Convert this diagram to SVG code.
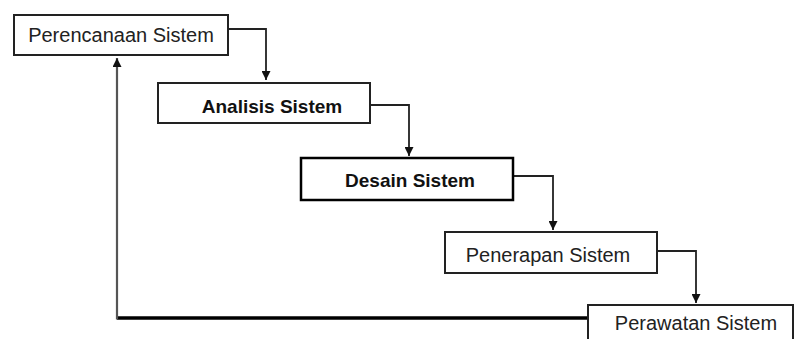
<svg xmlns="http://www.w3.org/2000/svg" width="795" height="339" viewBox="0 0 795 339">
<style>
.box{fill:#fff;stroke:#222;stroke-width:2}
.bold{stroke:#000;stroke-width:2.5}
.t{font-family:"Liberation Sans",Arial,sans-serif;font-size:20px;fill:#222;text-anchor:middle}
.tb{font-family:"Liberation Sans",Arial,sans-serif;font-size:19px;font-weight:bold;fill:#111;text-anchor:middle}
.c{fill:none;stroke:#222;stroke-width:1.8}
</style>
<defs>
<marker id="ah" markerUnits="userSpaceOnUse" markerWidth="10" markerHeight="9" refX="9" refY="4.5" orient="auto">
<path d="M0,0 L9,4.5 L0,9 Z" fill="#111"/>
</marker>
</defs>
<rect width="795" height="339" fill="#fff"/>
<g id="connectors">
<path class="c" d="M228,29 H266 V80" marker-end="url(#ah)"/>
<path class="c" d="M370,105 H409 V156" marker-end="url(#ah)"/>
<path class="c" d="M513,176 H553 V230" marker-end="url(#ah)"/>
<path class="c" d="M657,251 H696 V303" marker-end="url(#ah)"/>
<path d="M588,318 H117" fill="none" stroke="#000" stroke-width="3.5"/>
<path d="M117,319.5 V58" fill="none" stroke="#555" stroke-width="2.2" marker-end="url(#ah)"/>
</g>
<g id="n1">
<rect class="box" x="14" y="15" width="214" height="40"/>
<text class="t" x="121" y="42">Perencanaan Sistem</text>
</g>
<g id="n2">
<rect class="box" x="158" y="83" width="212" height="40"/>
<text class="tb" x="272" y="113">Analisis Sistem</text>
</g>
<g id="n3">
<rect class="box bold" x="301" y="158" width="212" height="42"/>
<text class="tb" x="410" y="187">Desain Sistem</text>
</g>
<g id="n4">
<rect class="box" x="445" y="232" width="212" height="41"/>
<text class="t" x="548" y="262">Penerapan Sistem</text>
</g>
<g id="n5">
<rect class="box" x="588" y="305" width="205" height="50"/>
<text class="t" x="696" y="330">Perawatan Sistem</text>
</g>
</svg>
